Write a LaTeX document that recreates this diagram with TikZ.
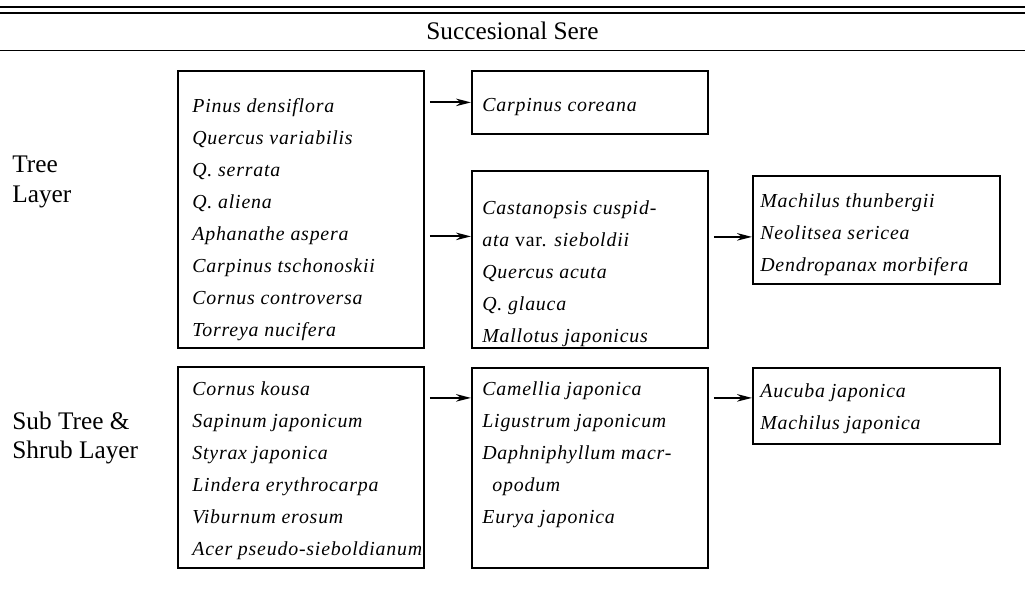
\documentclass[tikz,border=0pt]{standalone}
\usepackage{fontspec}
\setmainfont{Liberation Serif}
\usepackage{tikz}
\usetikzlibrary{calc,arrows.meta,positioning}
\tikzset{
    sere/.style={
    rectangle,draw=black,line width=1pt,inner sep=0pt,anchor=north west
    },
    species/.style={
    anchor=north west,inner sep=0pt,align=left,
    font=\fontsize{11.3}{18.2}\selectfont\itshape\addfontfeatures{LetterSpace=4}
    },
    layer/.style={
    anchor=west,inner sep=0pt,align=left,font=\fontsize{14.4}{17}\selectfont
    },
    flow/.style={
    draw=black,line width=1.2pt,-{Stealth[length=0.3cm,width=0.15cm]},shorten <=0.1cm
    },
    rule/.style={
    line width=0.8pt
    },
}
\begin{document}
\begin{tikzpicture}
   \useasboundingbox (0,0) rectangle (20.5,-11.86);

   %table rules
   \draw[rule] (0,-0.14) -- (20.5,-0.14);
   \draw[rule] (0,-0.26) -- (20.5,-0.26);
   \draw[rule] (0,-1.01) -- (20.5,-1.01);
   \node[font=\fontsize{14.4}{17}\selectfont] (sere) at (10.25,-0.62) {Succesional Sere};

   %layers
   \node[layer] (tree) at (0.24,-3.64) {Tree\\Layer};
   \node[layer] (shrub) at (0.24,-8.76) {Sub Tree \&\\Shrub Layer};

   %tree layer
   \node[sere,minimum width=4.92cm,minimum height=5.54cm] (pinus) at (3.54,-1.40) {};
   \node[sere,minimum width=4.72cm,minimum height=1.26cm] (coreana) at (9.42,-1.40) {};
   \node[sere,minimum width=4.72cm,minimum height=3.54cm] (cast) at (9.42,-3.40) {};
   \node[sere,minimum width=4.94cm,minimum height=2.16cm] (mach) at (15.04,-3.50) {};

   \node[species] (pinust) at (3.84,-1.96) {Pinus densiflora\\Quercus variabilis\\Q. serrata\\Q. aliena\\Aphanathe aspera\\Carpinus tschonoskii\\Cornus controversa\\Torreya nucifera};
   \node[species] (coreanat) at (9.64,-1.96) {Carpinus coreana};
   \node[species] (castt) at (9.64,-4.00) {Castanopsis cuspid-\\ata {\upshape var.} sieboldii\\Quercus acuta\\Q. glauca\\Mallotus japonicus};
   \node[species] (macht) at (15.20,-3.86) {Machilus thunbergii\\Neolitsea sericea\\Dendropanax morbifera};

   %sub tree and shrub layer
   \node[sere,minimum width=4.92cm,minimum height=4.02cm] (kousa) at (3.54,-7.32) {};
   \node[sere,minimum width=4.72cm,minimum height=4.00cm] (camel) at (9.42,-7.34) {};
   \node[sere,minimum width=4.94cm,minimum height=1.52cm] (aucuba) at (15.04,-7.34) {};

   \node[species] (kousat) at (3.84,-7.62) {Cornus kousa\\Sapinum japonicum\\Styrax japonica\\Lindera erythrocarpa\\Viburnum erosum\\Acer pseudo-sieboldianum};
   \node[species] (camelt) at (9.64,-7.62) {Camellia japonica\\Ligustrum japonicum\\Daphniphyllum macr-\\\hspace*{0.2cm}opodum\\Eurya japonica};
   \node[species] (aucubat) at (15.20,-7.66) {Aucuba japonica\\Machilus japonica};

   \coordinate (castin) at ([yshift=0.46cm]cast.west);
   \coordinate (machin) at ([yshift=-0.14cm]mach.west);
   \coordinate (shrubin) at ([yshift=0.16cm]aucuba.west);

  \path[every edge/.style={flow}]
    (pinus.east |- coreana.west) edge (coreana.west)
    (pinus.east |- castin) edge (castin)
    (cast.east |- machin) edge (machin)
    (kousa.east |- shrubin) edge (camel.west |- shrubin)
    (camel.east |- shrubin) edge (shrubin);
\end{tikzpicture}
\end{document}
